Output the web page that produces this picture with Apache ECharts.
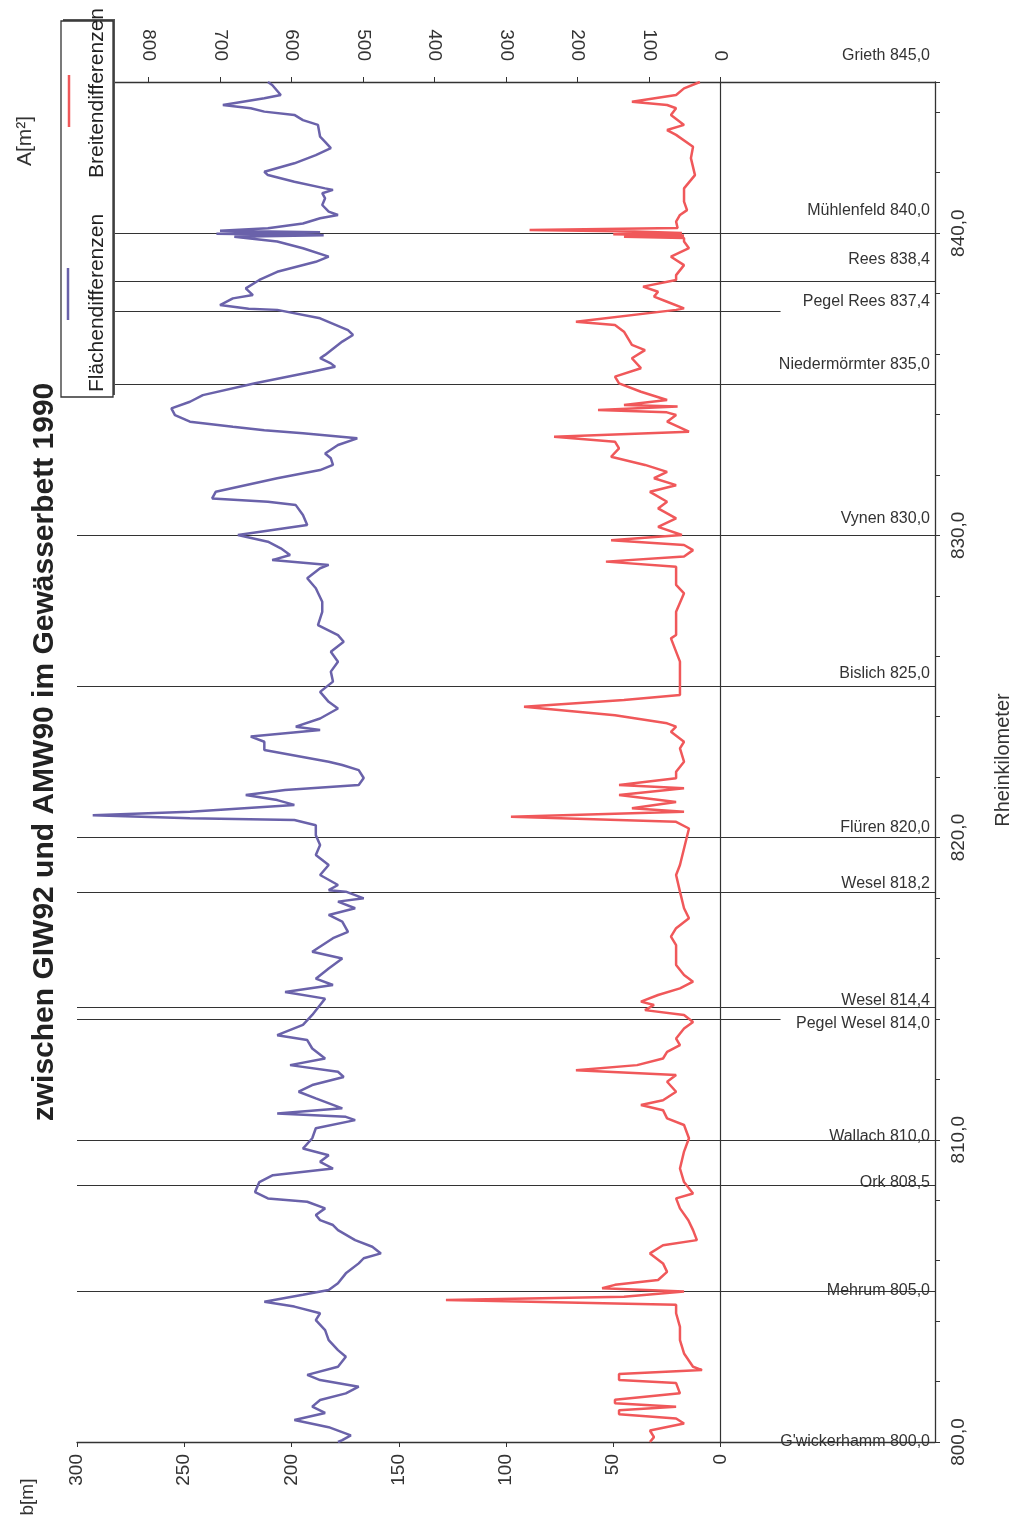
<!DOCTYPE html>
<html><head><meta charset="utf-8">
<script src="https://cdn.jsdelivr.net/npm/echarts@6/dist/echarts.min.js"></script>
<style>html,body{margin:0;padding:0;background:#fff}#c{width:1016px;height:1519px}</style>
</head><body><div id="c"></div>
<script>
// ---------------- data ----------------
const titleText = 'zwischen GIW92 und AMW90 im Gewässerbett 1990';
const seriesNames = ['Flächendifferenzen', 'Breitendifferenzen'];
const axisNames = { area: 'A[m²]', width: 'b[m]', km: 'Rheinkilometer' };

// Flächendifferenzen (A [m²]) along Rheinkilometer
const kmA = [845.00,844.90,844.57,844.46,844.24,844.13,844.02,843.91,843.74,843.58,
843.19,843.02,842.81,842.58,842.31,842.03,841.92,841.70,841.48,841.43,
841.32,841.15,840.93,840.71,840.60,840.49,840.32,840.16,840.08,840.03,
839.98,839.93,839.88,839.72,839.50,839.22,839.05,838.72,838.45,838.17,
837.95,837.84,837.62,837.50,837.46,837.18,836.79,836.63,836.41,835.97,
835.86,835.69,835.58,835.41,835.03,834.64,834.42,834.20,833.98,833.76,
833.59,833.48,833.38,833.21,832.99,832.71,832.55,832.33,832.16,831.89,
831.44,831.22,831.11,831.00,830.67,830.34,830.01,829.79,829.57,829.35,
829.18,829.02,828.91,828.58,828.25,827.80,827.47,827.03,826.70,826.48,
826.15,825.82,825.49,825.16,824.82,824.49,824.27,823.94,823.67,823.56,
823.34,823.17,822.90,822.51,822.40,822.23,821.97,821.74,821.57,821.41,
821.24,821.08,820.85,820.74,820.64,820.58,820.41,820.08,819.75,819.42,
819.09,818.76,818.43,818.26,818.21,817.99,817.88,817.66,817.44,817.22,
816.88,816.67,816.22,816.00,815.67,815.33,815.12,814.89,814.67,814.46,
814.13,813.80,813.46,813.30,813.02,812.69,812.47,812.25,812.08,811.81,
811.59,811.37,811.04,810.87,810.76,810.65,810.38,810.05,809.71,809.49,
809.27,809.05,808.83,808.60,808.27,808.06,807.95,807.73,807.51,807.34,
807.18,807.01,806.68,806.46,806.24,806.08,805.91,805.58,805.25,805.03,
804.87,804.64,804.48,804.26,804.03,803.70,803.37,803.04,802.82,802.49,
802.22,802.05,801.83,801.61,801.39,801.17,800.96,800.73,800.49,800.22,
800.06,800.00];
const areaDiff = [633,627,615,638,696,657,638,596,584,563,
560,553,545,566,596,638,633,596,553,542,
557,553,557,548,535,560,584,633,700,560,
705,555,680,620,584,548,566,620,645,664,
654,682,700,660,620,560,521,514,529,553,
560,545,539,571,651,724,742,768,763,742,
682,638,584,508,535,553,545,542,560,620,
706,711,633,594,584,578,675,633,615,602,
627,548,560,578,566,557,557,563,535,527,
545,535,545,542,560,548,535,560,594,560,
657,638,638,548,529,506,499,506,609,664,
620,596,742,878,742,596,566,566,560,566,
548,560,535,548,524,499,535,511,548,529,
521,542,571,529,548,566,542,609,553,560,
571,584,620,578,571,553,602,535,527,571,
590,566,529,620,524,511,566,571,584,548,
560,542,626,645,651,633,578,553,566,560,
542,535,511,487,475,499,506,524,535,548,
584,638,596,560,566,553,548,535,524,535,
578,560,506,524,560,571,553,596,548,517,
529,535];

// Breitendifferenzen (b [m]) along Rheinkilometer
const kmB = [845.00,844.79,844.57,844.35,844.24,844.13,843.91,843.58,843.41,843.25,
842.86,842.48,841.92,841.48,841.04,840.76,840.60,840.38,840.17,840.10,
840.05,840.00,839.96,839.92,839.88,839.84,839.72,839.50,839.22,838.94,
838.61,838.45,838.23,838.06,837.90,837.73,837.51,837.46,837.07,836.96,
836.74,836.30,836.13,835.86,835.53,835.25,835.03,834.75,834.48,834.31,
834.26,834.15,834.07,833.98,833.76,833.43,833.26,833.10,832.88,832.60,
832.33,832.10,831.89,831.66,831.44,831.11,830.89,830.56,830.28,830.01,
829.84,829.68,829.51,829.30,829.13,828.96,828.36,828.08,827.47,826.70,
826.59,825.82,825.16,824.72,824.55,824.33,824.05,823.78,823.67,823.50,
823.17,822.95,822.51,822.18,821.96,821.74,821.63,821.41,821.18,820.97,
820.85,820.69,820.52,820.30,819.64,819.09,818.76,818.21,817.66,817.33,
817.00,816.72,816.44,815.78,815.45,815.23,815.01,814.79,814.57,814.46,
814.29,814.13,813.90,813.68,813.35,813.13,812.91,812.69,812.47,812.30,
812.14,811.92,811.59,811.31,811.15,810.98,810.71,810.49,810.05,809.61,
809.05,808.60,808.22,808.06,807.73,807.34,807.01,806.68,806.51,806.24,
805.91,805.63,805.36,805.20,805.09,804.98,804.81,804.70,804.54,804.26,
803.81,803.37,802.93,802.49,802.38,802.25,802.05,801.95,801.61,801.40,
801.28,801.17,801.05,800.92,800.78,800.61,800.38,800.16,800.00];
const widthDiff = [9.6,17,20.7,41.3,24.9,20.7,23.1,17,24.9,20.7,
12.8,13.8,11.9,17,17,15.6,18.9,20.7,20,89,
40,18,50,17,45,17,17,14.7,23.1,17,
20.7,20.7,36.1,29.1,31,24.9,17,20.7,67.4,49.2,
45,41.3,35.2,41.3,37.1,49.2,47.3,37.1,24.9,45,
20,57.1,25,20.7,24.9,14.7,77.6,49.2,47.3,51,
35.2,24.9,31,20.7,32.9,24.9,29.1,20.7,29.1,18,
51,17,12.8,17,53.4,20.7,20.7,17,20.7,20.7,
23.1,18.9,18.9,18.9,45,91.6,49.2,24.9,20.7,23.1,
17,18.9,17,20.7,20.7,47.3,17,47.3,20.7,41.3,
17,97.7,20.7,14.7,17,18.9,20.7,18.9,17,14.7,
20.7,23.1,20.7,20.7,17,12.8,18.9,29.1,37.1,31,
35.2,17,12.8,17,20.7,18.9,24.9,26.8,38.9,67.4,
20.7,24.9,20.7,26.8,37.1,26.8,24.9,17,14.7,17,
18.9,17,12.8,20.7,18.9,15,12.8,11,26.8,32.9,
26.8,24.9,29.1,49.2,55.2,17,45,128,20.7,20.7,
18.9,18.9,17,12.8,8.6,47.3,47.3,20.7,18.9,49.2,
49.2,20.7,47.3,47.3,20.7,17,32.9,31,32.9];

// Stations (Rheinkilometer)
const stationNames = ['Grieth','Mühlenfeld','Rees','Pegel Rees','Niedermörmter','Vynen','Bislich','Flüren','Wesel','Wesel','Pegel Wesel','Wallach','Ork','Mehrum',"G'wickerhamm"];
const stationKm = [845.0,840.0,838.4,837.4,835.0,830.0,825.0,820.0,818.2,814.4,814.0,810.0,808.5,805.0,800.0];

// Tick labels
const bTicks = [0,50,100,150,200,250,300];
const aTicks = [0,100,200,300,400,500,600,700,800];
const kmTickLabels = [800,810,820,830,840];

// ---------------- chart ----------------
const FONT = '"Liberation Sans", Arial, sans-serif';
const PURPLE = '#6a62aa';
const RED = '#f0585a';
const INK = '#333';
const B_MIN = -100, B_MAX = 300, A_MIN = -300, A_MAX = 900;
const GAUGE_END = -28;

const fmtKm = v => v.toFixed(1).replace('.', ',');

const mlData = [];
stationKm.forEach((km, i) => {
  const name = stationNames[i];
  const gauge = name.indexOf('Pegel') === 0;
  const rise = 0.65 * Math.max(0, km - 805) - (gauge ? 11 : 0);
  const lbl = {
    show: true, position: 'insideEndTop', formatter: name + ' ' + fmtKm(km),
    distance: [5, rise - 8], color: INK, fontSize: 16, fontFamily: FONT
  };
  if (gauge) {
    mlData.push([{ coord: [B_MAX, km], lineStyle: { color: INK, width: 1.2, type: 'solid' }, label: { show: false } },
                 { coord: [GAUGE_END, km] }]);
    mlData.push([{ coord: [B_MAX, km], lineStyle: { color: 'rgba(0,0,0,0)', width: 0 }, label: lbl },
                 { coord: [B_MIN, km] }]);
  } else {
    mlData.push([{ coord: [B_MAX, km], lineStyle: { color: INK, width: 1.2, type: 'solid' }, label: lbl },
                 { coord: [B_MIN, km] }]);
  }
});
mlData.push({ xAxis: 0, lineStyle: { color: INK, width: 1.2, type: 'solid' }, label: { show: false } });

const chart = echarts.init(document.getElementById('c'), null, { renderer: 'canvas' });
const rot = Math.PI / 2;

chart.setOption({
  animation: false,
  backgroundColor: '#fff',
  grid: { left: 77, right: 81, top: 82, bottom: 77, containLabel: false, outerBoundsMode: 'none' },
  xAxis: [
    {
      type: 'value', position: 'bottom', min: B_MIN, max: B_MAX, inverse: true,
      axisLine: { show: true, onZero: false, lineStyle: { color: INK, width: 1.3 } },
      axisTick: { show: true, customValues: bTicks, length: 5, lineStyle: { color: INK } },
      axisLabel: { customValues: bTicks, rotate: 90, margin: 12, fontSize: 19, color: INK, fontFamily: FONT },
      splitLine: { show: false }
    },
    {
      type: 'value', position: 'top', min: A_MIN, max: A_MAX, inverse: true,
      axisLine: { show: true, onZero: false, lineStyle: { color: INK, width: 1.3 } },
      axisTick: { show: true, customValues: aTicks, length: 5, lineStyle: { color: INK } },
      axisLabel: { customValues: aTicks, rotate: 90, margin: 21, fontSize: 19, color: INK, fontFamily: FONT },
      splitLine: { show: false }
    }
  ],
  yAxis: [
    {
      type: 'value', position: 'right', min: 800, max: 845, interval: 2,
      axisLine: { show: true, onZero: false, lineStyle: { color: INK, width: 1.3 } },
      axisTick: { show: true, length: 5, lineStyle: { color: INK } },
      axisLabel: {
        rotate: 90, margin: 14, fontSize: 19, color: INK, fontFamily: FONT,
        formatter: v => (kmTickLabels.indexOf(v) >= 0 ? fmtKm(v) : '')
      },
      splitLine: { show: false }
    }
  ],
  series: [
    {
      name: seriesNames[0], type: 'line', xAxisIndex: 1, yAxisIndex: 0,
      data: kmA.map((k, i) => [areaDiff[i], k]),
      showSymbol: false, symbol: 'none',
      lineStyle: { color: PURPLE, width: 2.5 }, itemStyle: { color: PURPLE }, z: 3
    },
    {
      name: seriesNames[1], type: 'line', xAxisIndex: 0, yAxisIndex: 0,
      data: kmB.map((k, i) => [widthDiff[i], k]),
      showSymbol: false, symbol: 'none',
      lineStyle: { color: RED, width: 2.5 }, itemStyle: { color: RED }, z: 3,
      markLine: {
        silent: true, symbol: ['none', 'none'], animation: false, z: 1,
        data: mlData
      }
    }
  ],
  graphic: [
    { type: 'text', x: 45, y: 752, rotation: rot, z: 50,
      style: { text: titleText, font: 'bold 30px ' + FONT, fill: '#222', align: 'center', verticalAlign: 'middle' } },
    { type: 'text', x: 25, y: 141, rotation: rot, z: 50,
      style: { text: axisNames.area, font: '21px ' + FONT, fill: INK, align: 'center', verticalAlign: 'middle' } },
    { type: 'text', x: 28, y: 1497, rotation: rot, z: 50,
      style: { text: axisNames.width, font: '19px ' + FONT, fill: INK, align: 'center', verticalAlign: 'middle' } },
    { type: 'text', x: 1003, y: 760, rotation: rot, z: 50,
      style: { text: axisNames.km, font: '20px ' + FONT, fill: INK, align: 'center', verticalAlign: 'middle' } },
    // legend box
    { type: 'rect', z: 99, shape: { x: 63, y: 19, width: 52, height: 376 }, style: { fill: '#555', stroke: null } },
    { type: 'rect', z: 100, shape: { x: 61, y: 21, width: 52, height: 376 }, style: { fill: '#fff', stroke: INK, lineWidth: 1.3 } },
    { type: 'line', z: 101, shape: { x1: 68, y1: 268, x2: 68, y2: 320 }, style: { stroke: PURPLE, lineWidth: 2.5 } },
    { type: 'line', z: 101, shape: { x1: 69, y1: 75, x2: 69, y2: 127 }, style: { stroke: RED, lineWidth: 2.5 } },
    { type: 'text', x: 97, y: 303, rotation: rot, z: 102,
      style: { text: seriesNames[0], font: '21px ' + FONT, fill: '#222', align: 'center', verticalAlign: 'middle' } },
    { type: 'text', x: 97, y: 93, rotation: rot, z: 102,
      style: { text: seriesNames[1], font: '21px ' + FONT, fill: '#222', align: 'center', verticalAlign: 'middle' } }
  ]
});
</script>
</body></html>
